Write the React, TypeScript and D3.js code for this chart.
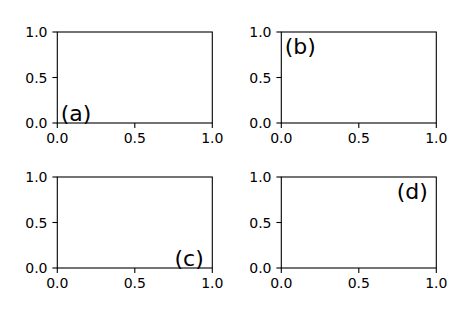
import React from "react";
import * as d3 from "d3";

const xTicks = [0, 0.5, 1.0];
const yTicks = [0, 0.5, 1.0];
const panelLabels = ["(a)", "(b)", "(c)", "(d)"];
const labelCorners = ["lower left", "upper left", "lower right", "upper right"];

const W = 474;
const H = 316;
const colLeft = [57.3, 281.3];
const rowTop = [32, 177];
const axW = 155;
const axH = 91;
const font = "DejaVu Sans, sans-serif";
const tickLen = 4.9;
const pad = 4.9;

function Panel({ idx }: { idx: number }) {
  const col = idx % 2;
  const row = Math.floor(idx / 2);
  const x0 = colLeft[col];
  const y0 = rowTop[row];
  const x = d3.scaleLinear().domain([0, 1]).range([x0, x0 + axW]);
  const y = d3.scaleLinear().domain([0, 1]).range([y0 + axH, y0]);
  const corner = labelCorners[idx];
  const isLeft = corner.includes("left");
  const isLower = corner.includes("lower");
  const lx = isLeft ? x0 + 3.4 : x0 + axW - 8.5;
  const ly = isLower ? y0 + axH - 2 : y0 + 22;
  return (
    <g>
      <rect x={x0} y={y0} width={axW} height={axH} fill="white" stroke="black" strokeWidth={1.1} />
      {xTicks.map((t) => (
        <g key={"x" + t}>
          <line x1={x(t)} x2={x(t)} y1={y0 + axH} y2={y0 + axH + tickLen} stroke="black" strokeWidth={1.1} />
          <text x={x(t)} y={y0 + axH + tickLen + pad} dy="0.76em" textAnchor="middle" fontSize={14} fontFamily={font} fill="black">
            {t.toFixed(1)}
          </text>
        </g>
      ))}
      {yTicks.map((t) => (
        <g key={"y" + t}>
          <line x1={x0 - tickLen} x2={x0} y1={y(t)} y2={y(t)} stroke="black" strokeWidth={1.1} />
          <text x={x0 - tickLen - pad} y={y(t)} dy="0.36em" textAnchor="end" fontSize={14} fontFamily={font} fill="black">
            {t.toFixed(1)}
          </text>
        </g>
      ))}
      <text x={lx} y={ly} textAnchor={isLeft ? "start" : "end"} fontSize={22} fontFamily={font} fill="black">
        {panelLabels[idx]}
      </text>
    </g>
  );
}

export default function App() {
  return (
    <svg width={W} height={H} style={{ display: "block", position: "absolute", left: 0, top: 0 }}>
      <rect width={W} height={H} fill="white" />
      {panelLabels.map((_, i) => (
        <Panel key={i} idx={i} />
      ))}
    </svg>
  );
}
